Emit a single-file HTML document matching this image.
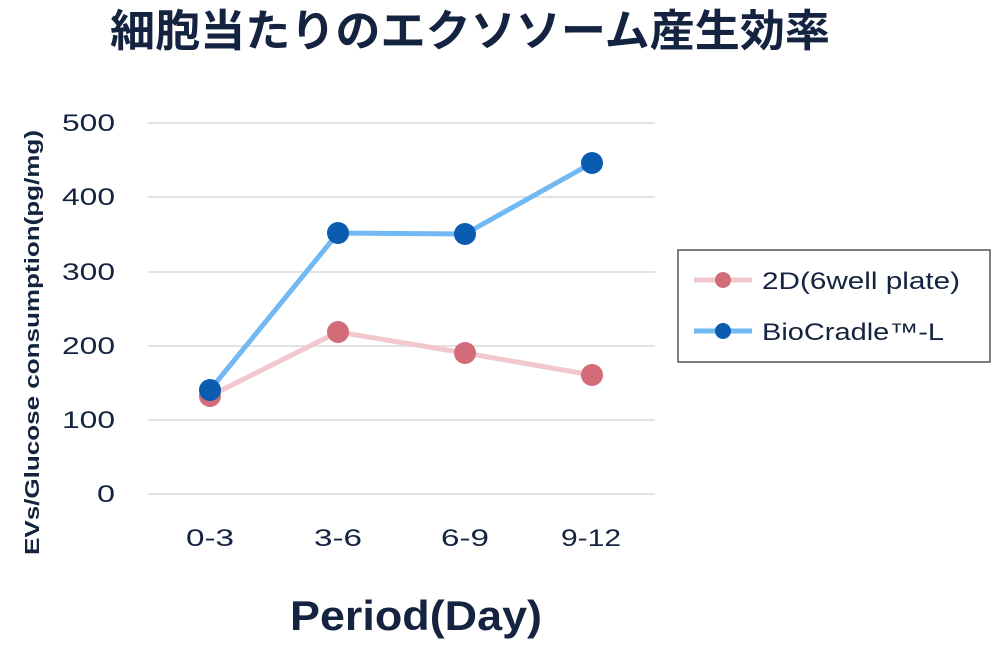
<!DOCTYPE html>
<html><head><meta charset="utf-8"><style>
html,body{margin:0;padding:0;background:#fff;}
svg{display:block;}
</style></head><body>
<svg width="1000" height="654" xmlns="http://www.w3.org/2000/svg" font-family="Liberation Sans, Noto Sans CJK JP, sans-serif">
<text x="110" y="46" textLength="720" lengthAdjust="spacingAndGlyphs" font-size="44" font-weight="bold" fill="#14233f" font-family="Liberation Sans, Noto Sans CJK JP, sans-serif">細胞当たりのエクソソーム産生効率</text>
<g stroke="#d9d9d9" stroke-width="1.5">
<line x1="148" y1="123" x2="655" y2="123"/>
<line x1="148" y1="197" x2="655" y2="197"/>
<line x1="148" y1="272" x2="655" y2="272"/>
<line x1="148" y1="346" x2="655" y2="346"/>
<line x1="148" y1="420" x2="655" y2="420"/>
<line x1="148" y1="494" x2="655" y2="494"/>
</g>
<g font-size="24" fill="#14233f">
<text x="62" y="131" textLength="53" lengthAdjust="spacingAndGlyphs">500</text>
<text x="62" y="205" textLength="53" lengthAdjust="spacingAndGlyphs">400</text>
<text x="62" y="280" textLength="53" lengthAdjust="spacingAndGlyphs">300</text>
<text x="62" y="354" textLength="53" lengthAdjust="spacingAndGlyphs">200</text>
<text x="62" y="428" textLength="53" lengthAdjust="spacingAndGlyphs">100</text>
<text x="97" y="502" textLength="18" lengthAdjust="spacingAndGlyphs">0</text>
</g>
<g font-size="24" fill="#14233f">
<text x="186" y="546" textLength="48" lengthAdjust="spacingAndGlyphs">0-3</text>
<text x="314" y="546" textLength="48" lengthAdjust="spacingAndGlyphs">3-6</text>
<text x="441" y="546" textLength="48" lengthAdjust="spacingAndGlyphs">6-9</text>
<text x="561" y="546" textLength="60" lengthAdjust="spacingAndGlyphs">9-12</text>
</g>
<text transform="translate(39,555) rotate(-90)" textLength="425" lengthAdjust="spacingAndGlyphs" font-size="20" font-weight="bold" fill="#14233f">EVs/Glucose consumption(pg/mg)</text>
<text x="290" y="630" textLength="252" lengthAdjust="spacingAndGlyphs" font-size="42" font-weight="bold" fill="#14233f">Period(Day)</text>
<polyline points="210,396 338,332 465,353 592,375" fill="none" stroke="#f0c8cd" stroke-width="5"/>
<g fill="#d36b78"><circle cx="210" cy="396" r="11"/><circle cx="338" cy="332" r="11"/><circle cx="465" cy="353" r="11"/><circle cx="592" cy="375" r="11"/></g>
<polyline points="210,390 338,233 465,234 592,163" fill="none" stroke="#72b8f2" stroke-width="5"/>
<g fill="#0b5bb0"><circle cx="210" cy="390" r="11"/><circle cx="338" cy="233" r="11"/><circle cx="465" cy="234" r="11"/><circle cx="592" cy="163" r="11"/></g>
<rect x="678" y="250" width="312" height="112" fill="#fff" stroke="#555" stroke-width="1.5"/>
<line x1="694" y1="280" x2="752" y2="280" stroke="#f0c8cd" stroke-width="5"/>
<circle cx="723" cy="280" r="8" fill="#d36b78"/>
<text x="762" y="289" textLength="198" lengthAdjust="spacingAndGlyphs" font-size="24" fill="#14233f">2D(6well plate)</text>
<line x1="694" y1="331" x2="752" y2="331" stroke="#72b8f2" stroke-width="5"/>
<circle cx="723" cy="331" r="8" fill="#0b5bb0"/>
<text x="762" y="340" textLength="182" lengthAdjust="spacingAndGlyphs" font-size="24" fill="#14233f">BioCradle™-L</text>
</svg>
</body></html>
